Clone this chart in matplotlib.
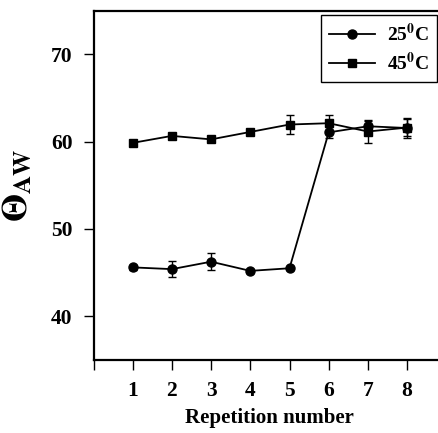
import matplotlib
matplotlib.use("Agg")
import matplotlib.pyplot as plt
from matplotlib.lines import Line2D

plt.rcParams['font.family'] = ['Liberation Serif', 'DejaVu Serif']
plt.rcParams['mathtext.fontset'] = 'stix'

repetition = [1, 2, 3, 4, 5, 6, 7, 8]
theta_25 = [45.6, 45.4, 46.25, 45.2, 45.5, 61.05, 61.75, 61.55]
err_25 = [0.3, 0.95, 1.0, 0.2, 0.2, 0.6, 0.6, 1.1]
theta_45 = [59.85, 60.65, 60.25, 61.1, 61.95, 62.1, 61.15, 61.6]
err_45 = [0.2, 0.2, 0.2, 0.2, 1.1, 0.9, 1.3, 1.0]
labels = [r'25$^{\mathbf{0}}$C', r'45$^{\mathbf{0}}$C']

fig = plt.figure(figsize=(4.38, 4.33), dpi=100)
ax = fig.add_axes([93.5/438, 73/433, 9*39.2/438, 349.5/433])

ax.errorbar(repetition, theta_25, yerr=err_25, color='black', marker='o',
            markersize=6.5, linewidth=1.3, capsize=3, elinewidth=1.0)
ax.errorbar(repetition, theta_45, yerr=err_45, color='black', marker='s',
            markersize=5.5, linewidth=1.3, capsize=3, elinewidth=1.0)

ax.set_xlim(0, 9)
ax.set_ylim(35, 75)
ax.set_xticks(range(0, 9))
ax.set_xticklabels([''] + [str(r) for r in repetition])
ax.set_yticks([40, 50, 60, 70])
for lab in ax.get_xticklabels() + ax.get_yticklabels():
    lab.set_fontweight('bold')
    lab.set_fontsize(15.5)
ax.tick_params(axis='both', direction='out', length=7, width=1.0, pad=8)

for s in ['left', 'bottom', 'top']:
    ax.spines[s].set_linewidth(1.6)
ax.spines['right'].set_visible(False)

ax.set_xlabel('Repetition number', fontsize=15, fontweight='bold', labelpad=5)
ax.set_ylabel(r'$\mathbf{\Theta}_{\mathbf{AW}}$', fontsize=26, labelpad=12)

handles = [Line2D([], [], color='black', marker='o', markersize=6.5, linewidth=1.3),
           Line2D([], [], color='black', marker='s', markersize=5.5, linewidth=1.3)]
leg = ax.legend(handles, labels, loc='upper right', bbox_to_anchor=(437/438, 1 - 15/433),
                bbox_transform=fig.transFigure, borderaxespad=0,
                fancybox=False, edgecolor='black', framealpha=1,
                prop={'weight': 'bold', 'size': 14}, handlelength=2.4,
                borderpad=0.4, labelspacing=0.35, handletextpad=0.6)
leg.get_frame().set_linewidth(1.0)

fig.savefig('out.png', dpi=100)
